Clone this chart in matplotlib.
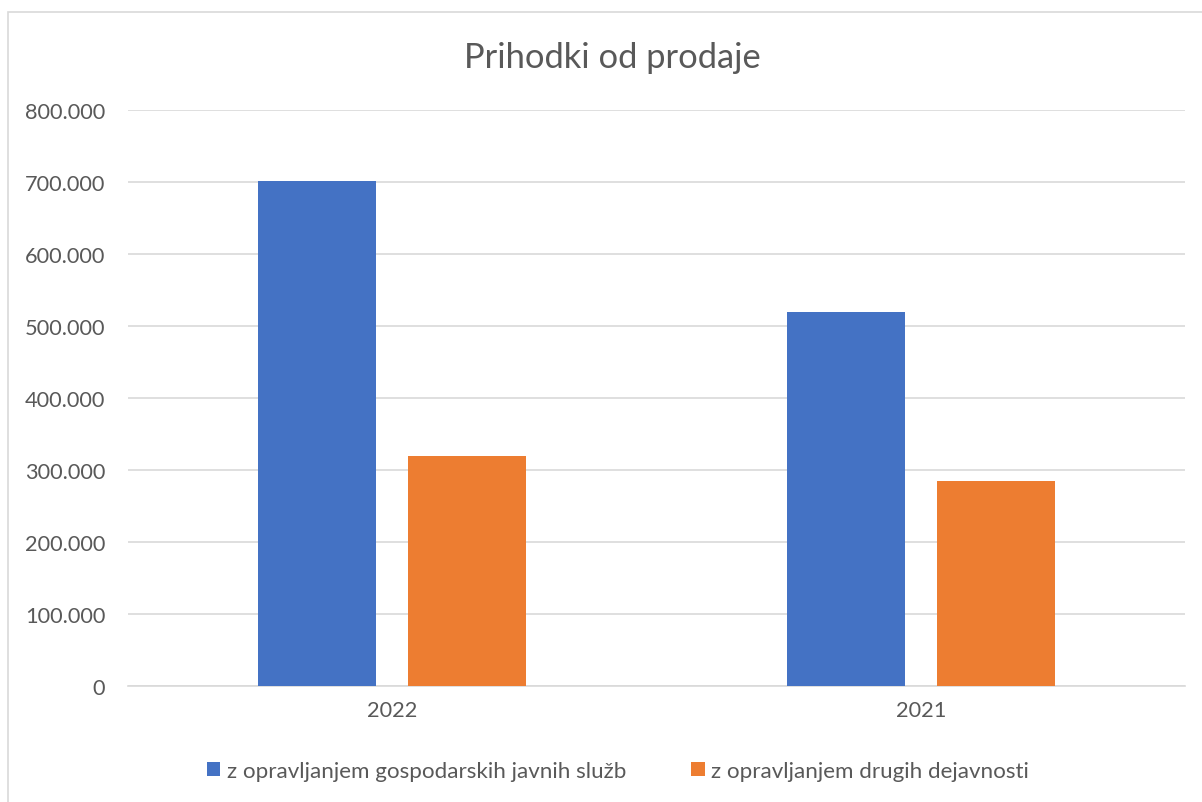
import numpy as np
import matplotlib.pyplot as plt
from matplotlib.patches import Rectangle
from matplotlib.ticker import FuncFormatter

years = ["2022", "2021"]
series_names = ["z opravljanjem gospodarskih javnih služb",
                "z opravljanjem drugih dejavnosti"]
gjs_values = [701000, 519000]
other_values = [320000, 285000]

plt.rcParams['font.family'] = ['Lato', 'DejaVu Sans']
text_color = '#595959'
grid_color = '#d9d9d9'

W, H = 1202, 803
fig = plt.figure(figsize=(W / 100, H / 100), dpi=100)

# outer chart frame
fig.patches.append(Rectangle((8 / W, -0.1), 1.2, 1.1 - 13 / H, transform=fig.transFigure,
                             fill=False, edgecolor='#d9d9d9', linewidth=1.2))

ax = fig.add_axes([128 / W, 1 - 687 / H, (1185 - 128) / W, (687 - 111) / H])

x = np.arange(len(years))
width = 0.223
offset = 0.142
ax.bar(x - offset, gjs_values, width, color='#4472C4', label=series_names[0], zorder=3)
ax.bar(x + offset, other_values, width, color='#ED7D31', label=series_names[1], zorder=3)

ax.set_xlim(-0.5, 1.5)
ax.set_ylim(0, 800000)
ax.set_yticks(np.arange(0, 800001, 100000))
ax.yaxis.set_major_formatter(FuncFormatter(lambda v, p: f"{int(v):,}".replace(",", ".")))
ax.set_xticks(x)
ax.set_xticklabels(years)

ax.grid(axis='y', color=grid_color, linewidth=1.2, zorder=0)
for s in ['top', 'right', 'left']:
    ax.spines[s].set_visible(False)
ax.spines['bottom'].set_color(grid_color)
ax.spines['bottom'].set_linewidth(1.2)
ax.tick_params(axis='both', length=0, labelsize=15.7, colors=text_color)
ax.tick_params(axis='y', pad=16.5)
ax.tick_params(axis='x', pad=10)

fig.text(612 / W, 1 - 58 / H, "Prihodki od prodaje",
         ha='center', va='center', fontsize=24.8, color=text_color)

fig.legend(loc='center', bbox_to_anchor=(618 / W, 1 - 772 / H),
           ncol=2, frameon=False, fontsize=16.1, labelcolor=text_color,
           handlelength=0.6, handleheight=0.6, handletextpad=0.3, columnspacing=2.9)

fig.savefig('out.png', dpi=100)
